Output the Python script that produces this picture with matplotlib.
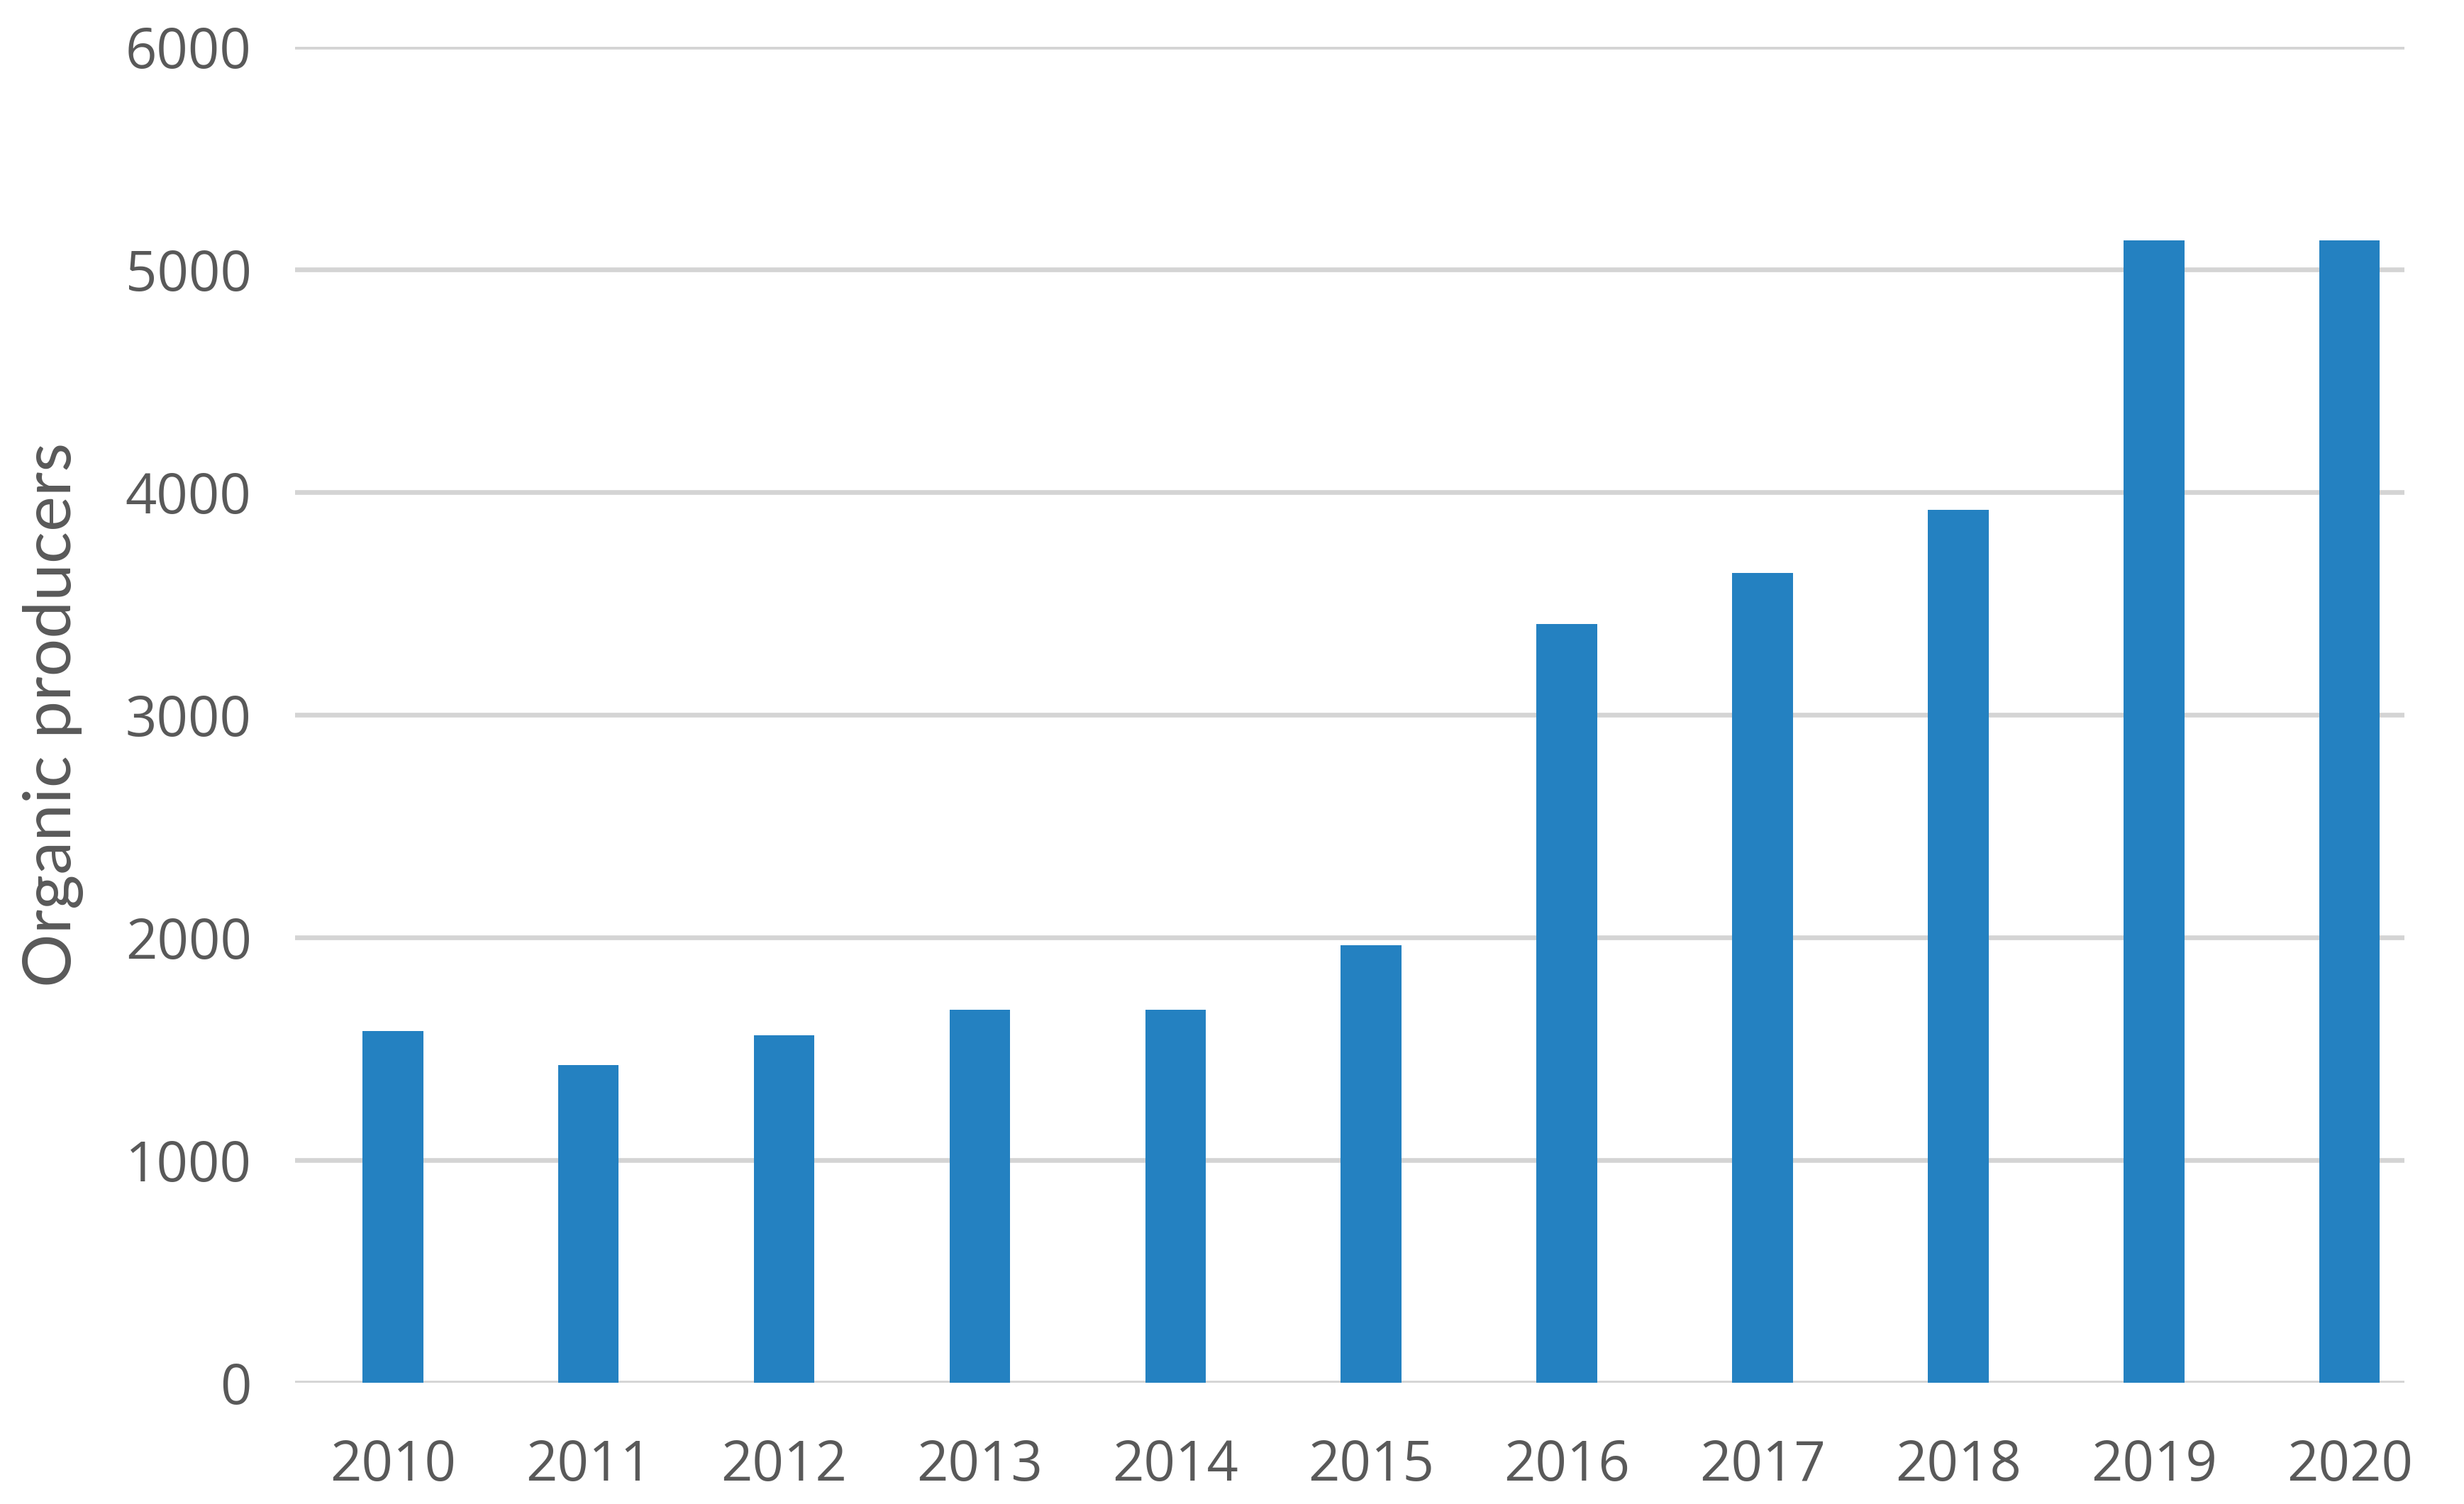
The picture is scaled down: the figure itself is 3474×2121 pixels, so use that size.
import matplotlib
matplotlib.use("Agg")
from matplotlib import pyplot as plt

# values
years = ["2010", "2011", "2012", "2013", "2014", "2015",
         "2016", "2017", "2018", "2019", "2020"]
producers = [1580, 1428, 1561, 1675, 1675, 1965,
             3407, 3636, 3921, 5129, 5129]
y_ticks = [0, 1000, 2000, 3000, 4000, 5000, 6000]

bar_color = "#2481c1"
text_color = "#595959"
grid_color = "#d4d4d4"

fig = plt.figure(figsize=(17.37, 10.605), dpi=200)
ax = fig.add_axes([0.1197, 0.0806, 0.8561, 0.8883])

x = range(len(years))
ax.bar(x, producers, width=0.31, color=bar_color, zorder=3)

# the last category sits close to the right end of the gridlines
ax.set_xlim(-0.5, 10.28)
ax.set_ylim(0, 6000)
ax.set_yticks(y_ticks)
ax.set_xticks(list(x))
ax.set_xticklabels(years)

# horizontal gridlines only, no frame
ax.grid(axis="y", color=grid_color, linewidth=2.4, zorder=0)
ax.grid(axis="x", visible=False)
for side in ax.spines.values():
    side.set_visible(False)
ax.tick_params(axis="both", length=0, labelsize=28, labelcolor=text_color)
ax.tick_params(axis="x", pad=28)
ax.tick_params(axis="y", pad=22)
for lab in ax.get_xticklabels() + ax.get_yticklabels():
    lab.set_family("Open Sans")

ax.set_ylabel("Organic producers", fontsize=34, color=text_color,
              family="Lato")
ax.yaxis.set_label_coords(-0.1, 0.50)

fig.savefig("out.png", dpi=200)
